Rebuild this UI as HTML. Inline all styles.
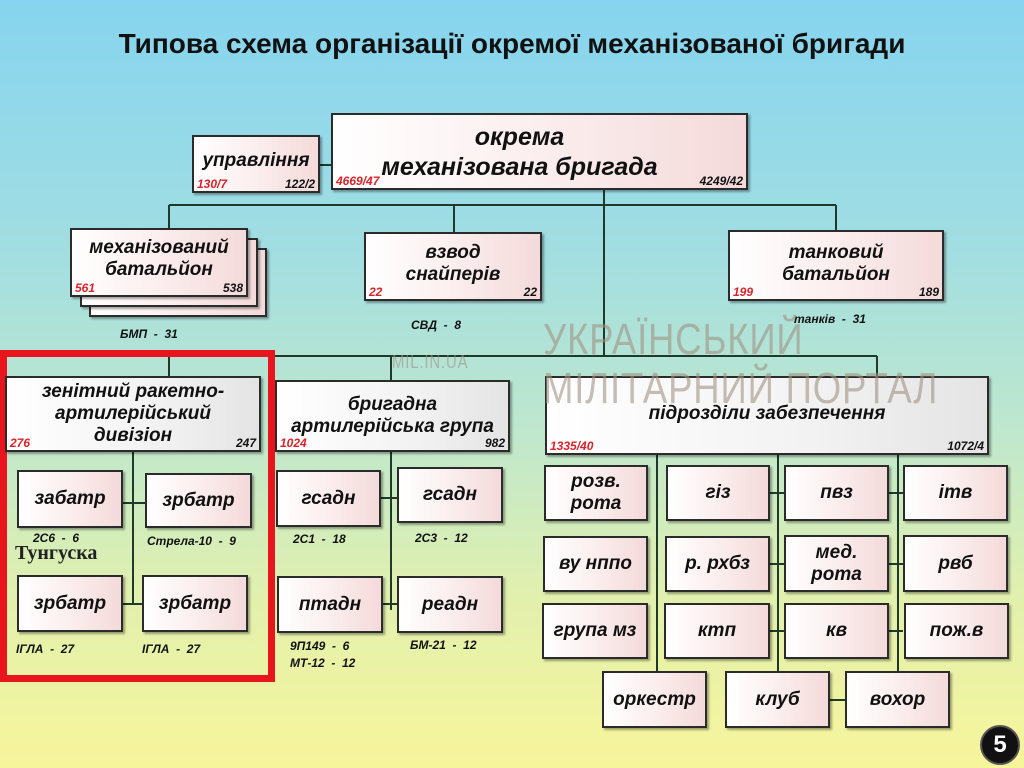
<!DOCTYPE html>
<html><head><meta charset="utf-8"><style>
*{margin:0;padding:0;box-sizing:border-box}
body{width:1024px;height:768px;overflow:hidden;position:relative;font-family:"Liberation Sans",sans-serif;
background:linear-gradient(180deg,#86d4ef 0%,#9fdde3 30%,#bde7cf 55%,#e2f0ad 78%,#f7f59b 100%)}
.t{position:absolute;left:0;width:1024px;top:28px;text-align:center;font-weight:bold;font-size:28px;color:#111}
.t span{display:inline-block;transform:scaleX(1.0)}
.b{position:absolute;border:2px solid #2b2b2b;background:linear-gradient(90deg,#fff 0%,#fbeeee 50%,#f4dada 100%);
box-shadow:2px 2px 2px rgba(0,0,0,.35);display:flex;align-items:center;justify-content:center;text-align:center;
font-weight:bold;font-style:italic;font-size:19px;line-height:22px;color:#111}
.g{background:linear-gradient(90deg,#fff 0%,#f2f2f2 60%,#e4e4e4 100%)}
.r{position:absolute;left:3px;bottom:1px;color:#d8232a;font-size:12px;font-weight:bold;font-style:italic;line-height:12px}
.k{position:absolute;right:3px;bottom:1px;color:#111;font-size:12px;font-weight:bold;font-style:italic;line-height:12px}
.l{position:absolute;font-size:12px;font-weight:bold;font-style:italic;color:#111;white-space:pre}
.wm{position:absolute;z-index:5;color:rgba(160,145,130,.6);font-size:44px;letter-spacing:1px;white-space:nowrap;transform:scaleX(.83);transform-origin:left}
</style></head><body>
<div class="t"><span>Типова схема організації окремої механізованої бригади</span></div>

<svg width="1024" height="768" style="position:absolute;left:0;top:0">
<g stroke="#1f3a2a" stroke-width="2" fill="none">
<path d="M169 205H836M169 205V228M454 205V232M836 205V230M604 190V356M320 165H331"/>
<path d="M169 356H877M169 356V376M391 356V380M877 356V376"/>
<path d="M133 452V605M123 503H145M123 604H142"/>
<path d="M391 452V610M381 498H397M383 604H397"/>
<path d="M657 455V672M778 455V672M898 455V672M770 493H784M889 493H903M770 564H784M889 564H903M770 631H784M889 631H903M830 700H845"/>
</g>
</svg>

<div class="wm" style="left:543px;top:315px">УКРАЇНСЬКИЙ</div>
<div class="wm" style="left:543px;top:364px">МІЛІТАРНИЙ ПОРТАЛ</div>
<div class="wm" style="left:392px;top:352px;font-size:18px">MIL.IN.UA</div>

<div class="b" style="left:192px;top:135px;width:128px;height:58px;padding-bottom:6px">управління<span class="r">130/7</span><span class="k">122/2</span></div>
<div class="b" style="left:331px;top:113px;width:417px;height:77px;font-size:25px;line-height:30px;padding-right:40px">окрема<br>механізована бригада<span class="r">4669/47</span><span class="k">4249/42</span></div>

<div class="b" style="left:89px;top:248px;width:178px;height:69px"></div>
<div class="b" style="left:80px;top:238px;width:178px;height:69px"></div>
<div class="b" style="left:70px;top:228px;width:178px;height:69px;padding-bottom:8px">механізований<br>батальйон<span class="r">561</span><span class="k">538</span></div>
<div class="b" style="left:364px;top:232px;width:178px;height:69px;padding-bottom:6px">взвод<br>снайперів<span class="r">22</span><span class="k">22</span></div>
<div class="b" style="left:728px;top:230px;width:216px;height:71px;padding-bottom:4px">танковий<br>батальйон<span class="r">199</span><span class="k">189</span></div>
<div class="l" style="left:120px;top:327px">БМП  -  31</div>
<div class="l" style="left:411px;top:318px">СВД  -  8</div>
<div class="l" style="left:794px;top:312px">танків  -  31</div>

<div style="position:absolute;left:0;top:350px;width:275px;height:332px;border:7px solid #e8161c"></div>
<div class="b g" style="left:5px;top:376px;width:256px;height:76px">зенітний ракетно-<br>артилерійський<br>дивізіон<span class="r">276</span><span class="k">247</span></div>
<div class="b g" style="left:275px;top:380px;width:235px;height:72px">бригадна<br>артилерійська група<span class="r">1024</span><span class="k">982</span></div>
<div class="b g" style="left:545px;top:376px;width:444px;height:79px;padding-bottom:4px">підрозділи забезпечення<span class="r">1335/40</span><span class="k">1072/4</span></div>

<div class="b" style="left:17px;top:470px;width:106px;height:58px">забатр</div>
<div class="b" style="left:145px;top:473px;width:107px;height:55px">зрбатр</div>
<div class="b" style="left:17px;top:575px;width:106px;height:57px">зрбатр</div>
<div class="b" style="left:142px;top:575px;width:106px;height:57px">зрбатр</div>
<div class="l" style="left:33px;top:531px">2С6  -  6</div>
<div class="l" style="left:147px;top:534px">Стрела-10  -  9</div>
<div style="position:absolute;left:15px;top:542px;font-family:'Liberation Serif',serif;font-weight:bold;font-size:20px;color:#222">Тунгуска</div>
<div class="l" style="left:16px;top:642px">ІГЛА  -  27</div>
<div class="l" style="left:142px;top:642px">ІГЛА  -  27</div>

<div class="b" style="left:276px;top:470px;width:105px;height:57px">гсадн</div>
<div class="b" style="left:397px;top:467px;width:106px;height:56px">гсадн</div>
<div class="b" style="left:277px;top:576px;width:106px;height:57px">птадн</div>
<div class="b" style="left:397px;top:576px;width:106px;height:57px">реадн</div>
<div class="l" style="left:293px;top:532px">2С1  -  18</div>
<div class="l" style="left:415px;top:531px">2С3  -  12</div>
<div class="l" style="left:290px;top:639px">9П149  -  6</div>
<div class="l" style="left:290px;top:656px">МТ-12  -  12</div>
<div class="l" style="left:410px;top:638px">БМ-21  -  12</div>

<div class="b" style="left:544px;top:465px;width:104px;height:56px">розв.<br>рота</div>
<div class="b" style="left:666px;top:465px;width:104px;height:56px">гіз</div>
<div class="b" style="left:784px;top:465px;width:105px;height:56px">пвз</div>
<div class="b" style="left:903px;top:465px;width:105px;height:56px">ітв</div>
<div class="b" style="left:543px;top:536px;width:105px;height:56px">ву нппо</div>
<div class="b" style="left:665px;top:536px;width:105px;height:56px">р. рхбз</div>
<div class="b" style="left:784px;top:535px;width:105px;height:57px">мед.<br>рота</div>
<div class="b" style="left:903px;top:535px;width:105px;height:57px">рвб</div>
<div class="b" style="left:542px;top:603px;width:106px;height:56px">група мз</div>
<div class="b" style="left:664px;top:603px;width:106px;height:56px">ктп</div>
<div class="b" style="left:784px;top:603px;width:105px;height:56px">кв</div>
<div class="b" style="left:904px;top:603px;width:105px;height:56px">пож.в</div>
<div class="b" style="left:602px;top:671px;width:105px;height:57px">оркестр</div>
<div class="b" style="left:725px;top:671px;width:105px;height:57px">клуб</div>
<div class="b" style="left:845px;top:671px;width:105px;height:57px">вохор</div>

<div style="position:absolute;left:980px;top:725px;width:40px;height:40px;border-radius:50%;background:#111;border:2px solid #555;color:#fff;font-weight:bold;font-size:24px;display:flex;align-items:center;justify-content:center">5</div>
</body></html>
